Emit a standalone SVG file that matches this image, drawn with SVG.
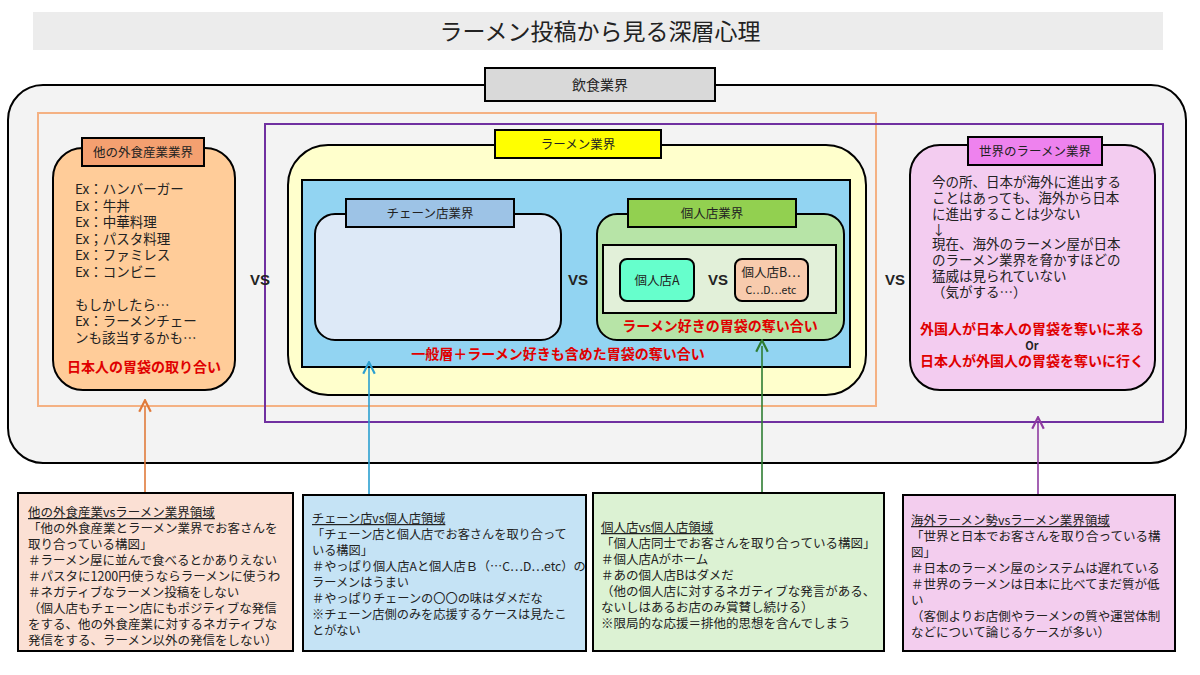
<svg xmlns="http://www.w3.org/2000/svg" width="1200" height="675" viewBox="0 0 1200 675">
<style>
text{font-family:"Noto Sans CJK JP","Noto Sans",sans-serif;fill:#222}
.b{stroke:#000;stroke-width:2}
.t{font-size:13px}
.s{font-size:12.5px}
.r{fill:#e00000;font-weight:bold;font-size:14px}
.vs{font-family:"Liberation Sans",sans-serif;font-weight:bold;font-size:15px}
.c{text-anchor:middle}
</style>
<defs>
<marker id="ao" viewBox="0 0 10 10" refX="5" refY="5" markerWidth="9" markerHeight="9" orient="auto"><path d="M1,1 L9,5 L1,9" fill="none" stroke="#e07a3a" stroke-width="1.5"/></marker>
<marker id="ab" viewBox="0 0 10 10" refX="5" refY="5" markerWidth="9" markerHeight="9" orient="auto"><path d="M1,1 L9,5 L1,9" fill="none" stroke="#2a9fd0" stroke-width="1.5"/></marker>
<marker id="ag" viewBox="0 0 10 10" refX="5" refY="5" markerWidth="9" markerHeight="9" orient="auto"><path d="M1,1 L9,5 L1,9" fill="none" stroke="#2e7d32" stroke-width="1.5"/></marker>
<marker id="ap" viewBox="0 0 10 10" refX="5" refY="5" markerWidth="9" markerHeight="9" orient="auto"><path d="M1,1 L9,5 L1,9" fill="none" stroke="#8e3aa0" stroke-width="1.5"/></marker>
</defs>
<rect width="1200" height="675" fill="#fff"/>
<g id="title"><rect x="33" y="12" width="1130" height="38" fill="#ececec"/><text x="600" y="40" class="c" font-size="23">ラーメン投稿から見る深層心理</text></g>
<g id="food"><rect x="8" y="85" width="1178" height="378" rx="35" fill="#f3f3f3" class="b"/><rect x="485" y="68" width="230" height="33" fill="#d9d9d9" class="b"/><text x="600" y="90" class="c" font-size="14">飲食業界</text></g>
<rect x="38" y="113" width="838" height="293" fill="none" stroke="#f4b183" stroke-width="2"/>
<rect x="265" y="124" width="898" height="298" fill="none" stroke="#7030a0" stroke-width="2"/>
<g id="other"><rect x="53" y="148" width="182" height="242" rx="30" fill="#ffcc99" class="b"/><rect x="82" y="138" width="122" height="28" fill="#f4a070" class="b"/><text x="143" y="157" class="c s">他の外食産業業界</text>
<text x="75" y="194" font-size="13.5"><tspan x="75">Ex：ハンバーガー</tspan><tspan x="75" dy="16.5">Ex：牛丼</tspan><tspan x="75" dy="16.5">Ex：中華料理</tspan><tspan x="75" dy="16.5">Ex；パスタ料理</tspan><tspan x="75" dy="16.5">Ex：ファミレス</tspan><tspan x="75" dy="16.5">Ex：コンビニ</tspan><tspan x="75" dy="33">もしかしたら…</tspan><tspan x="75" dy="16.5">Ex：ラーメンチェー</tspan><tspan x="75" dy="16.5">ンも該当するかも…</tspan></text>
<text x="144" y="372" class="r c">日本人の胃袋の取り合い</text></g>
<text x="260" y="285" class="vs c">VS</text>
<g id="ramen"><rect x="288" y="145" width="578" height="250" rx="40" fill="#ffffcc" class="b"/><rect x="495" y="130" width="166" height="28" fill="#ffff00" class="b"/><text x="578" y="149" class="c s">ラーメン業界</text>
<rect x="302" y="180" width="548" height="187" fill="#92d4f2" class="b"/>
<text x="558" y="359" class="r c">一般層＋ラーメン好きも含めた胃袋の奪い合い</text></g>
<g id="chain"><rect x="315" y="214" width="246" height="126" rx="20" fill="#dde9f7" class="b"/><rect x="346" y="199" width="168" height="28" fill="#9dc3e6" class="b"/><text x="430" y="218" class="c s">チェーン店業界</text></g>
<text x="578" y="285" class="vs c">VS</text>
<g id="indiv"><rect x="597" y="214" width="247" height="126" rx="20" fill="#b7e4a7" class="b"/><rect x="628" y="199" width="168" height="28" fill="#92d050" class="b"/><text x="712" y="218" class="c s">個人店業界</text>
<rect x="603" y="245" width="233" height="68" fill="#e2f0d9" class="b"/>
<text x="720" y="331" class="r c">ラーメン好きの胃袋の奪い合い</text></g>
<g id="shopA"><rect x="620" y="259" width="74" height="42" rx="7" fill="#66ffcc" class="b"/><text x="657" y="285" class="c s">個人店A</text></g>
<text x="718" y="285" class="vs c">VS</text>
<g id="shopB"><rect x="735" y="259" width="73" height="42" rx="7" fill="#f8cbad" class="b"/><text x="771" y="277" class="c s">個人店B…</text><text x="771" y="294" class="c" font-size="10.5">C…D…etc</text></g>
<text x="895" y="285" class="vs c">VS</text>
<g id="world"><rect x="910" y="145" width="245" height="245" rx="30" fill="#f3ccf0" class="b"/><rect x="968" y="137" width="134" height="28" fill="#ee82ee" class="b"/><text x="1035" y="156" class="c s">世界のラーメン業界</text>
<text font-size="13.5"><tspan x="932" y="187">今の所、日本が海外に進出する</tspan><tspan x="932" dy="16">ことはあっても、海外から日本</tspan><tspan x="932" dy="16">に進出することは少ない</tspan><tspan x="932" dy="16">↓</tspan><tspan x="932" dy="14">現在、海外のラーメン屋が日本</tspan><tspan x="932" dy="16">のラーメン業界を脅かすほどの</tspan><tspan x="932" dy="16">猛威は見られていない</tspan><tspan x="932" dy="16">（気がする…）</tspan></text>
<text x="1032" y="334" class="r c">外国人が日本人の胃袋を奪いに来る</text><text x="1032" y="350" class="c" font-size="11" fill="#e00000" font-weight="bold">Or</text><text x="1032" y="366" class="r c">日本人が外国人の胃袋を奪いに行く</text></g>
<g id="connectors" fill="none" stroke-width="1.6">
<line x1="145" y1="493" x2="145" y2="406" stroke="#e07a3a" marker-end="url(#ao)"/>
<line x1="369" y1="495" x2="369" y2="368" stroke="#2a9fd0" marker-end="url(#ab)"/>
<line x1="762" y1="493" x2="762" y2="346" stroke="#2e7d32" marker-end="url(#ag)"/>
<line x1="1038" y1="495" x2="1038" y2="423" stroke="#8e3aa0" marker-end="url(#ap)"/>
</g>
<g id="box1"><rect x="18" y="493" width="275" height="158" fill="#fbe0d4" class="b"/>
<text class="s"><tspan x="28" y="517" text-decoration="underline">他の外食産業vsラーメン業界領域</tspan><tspan x="28" dy="16">「他の外食産業とラーメン業界でお客さんを</tspan><tspan x="28" dy="16">取り合っている構図」</tspan><tspan x="28" dy="16">＃ラーメン屋に並んで食べるとかありえない</tspan><tspan x="28" dy="16">＃パスタに1200円使うならラーメンに使うわ</tspan><tspan x="28" dy="16">＃ネガティブなラーメン投稿をしない</tspan><tspan x="28" dy="16">（個人店もチェーン店にもポジティブな発信</tspan><tspan x="28" dy="16">をする、他の外食産業に対するネガティブな</tspan><tspan x="28" dy="16">発信をする、ラーメン以外の発信をしない）</tspan></text></g>
<g id="box2"><rect x="303" y="495" width="283" height="156" fill="#c5e3f5" class="b"/>
<text font-size="12.2"><tspan x="312" y="523" text-decoration="underline">チェーン店vs個人店領域</tspan><tspan x="312" dy="16">「チェーン店と個人店でお客さんを取り合って</tspan><tspan x="312" dy="16">いる構図」</tspan><tspan x="312" dy="16">＃やっぱり個人店Aと個人店Ｂ（…C…D…etc）の</tspan><tspan x="312" dy="16">ラーメンはうまい</tspan><tspan x="312" dy="16">＃やっぱりチェーンの〇〇の味はダメだな</tspan><tspan x="312" dy="16">※チェーン店側のみを応援するケースは見たこ</tspan><tspan x="312" dy="16">とがない</tspan></text></g>
<g id="box3"><rect x="593" y="493" width="291" height="158" fill="#dcf2d3" class="b"/>
<text class="s"><tspan x="601" y="532" text-decoration="underline">個人店vs個人店領域</tspan><tspan x="601" dy="16">「個人店同士でお客さんを取り合っている構図」</tspan><tspan x="601" dy="16">＃個人店Aがホーム</tspan><tspan x="601" dy="16">＃あの個人店Bはダメだ</tspan><tspan x="601" dy="16">（他の個人店に対するネガティブな発言がある、</tspan><tspan x="601" dy="16">ないしはあるお店のみ賞賛し続ける）</tspan><tspan x="601" dy="16">※限局的な応援＝排他的思想を含んでしまう</tspan></text></g>
<g id="box4"><rect x="903" y="495" width="272" height="156" fill="#f3cdee" class="b"/>
<text class="s"><tspan x="911" y="525" text-decoration="underline">海外ラーメン勢vsラーメン業界領域</tspan><tspan x="911" dy="16">「世界と日本でお客さんを取り合っている構</tspan><tspan x="911" dy="16">図」</tspan><tspan x="911" dy="16">＃日本のラーメン屋のシステムは遅れている</tspan><tspan x="911" dy="16">＃世界のラーメンは日本に比べてまだ質が低</tspan><tspan x="911" dy="16">い</tspan><tspan x="911" dy="16">（客側よりお店側やラーメンの質や運営体制</tspan><tspan x="911" dy="16">などについて論じるケースが多い）</tspan></text></g>
</svg>
